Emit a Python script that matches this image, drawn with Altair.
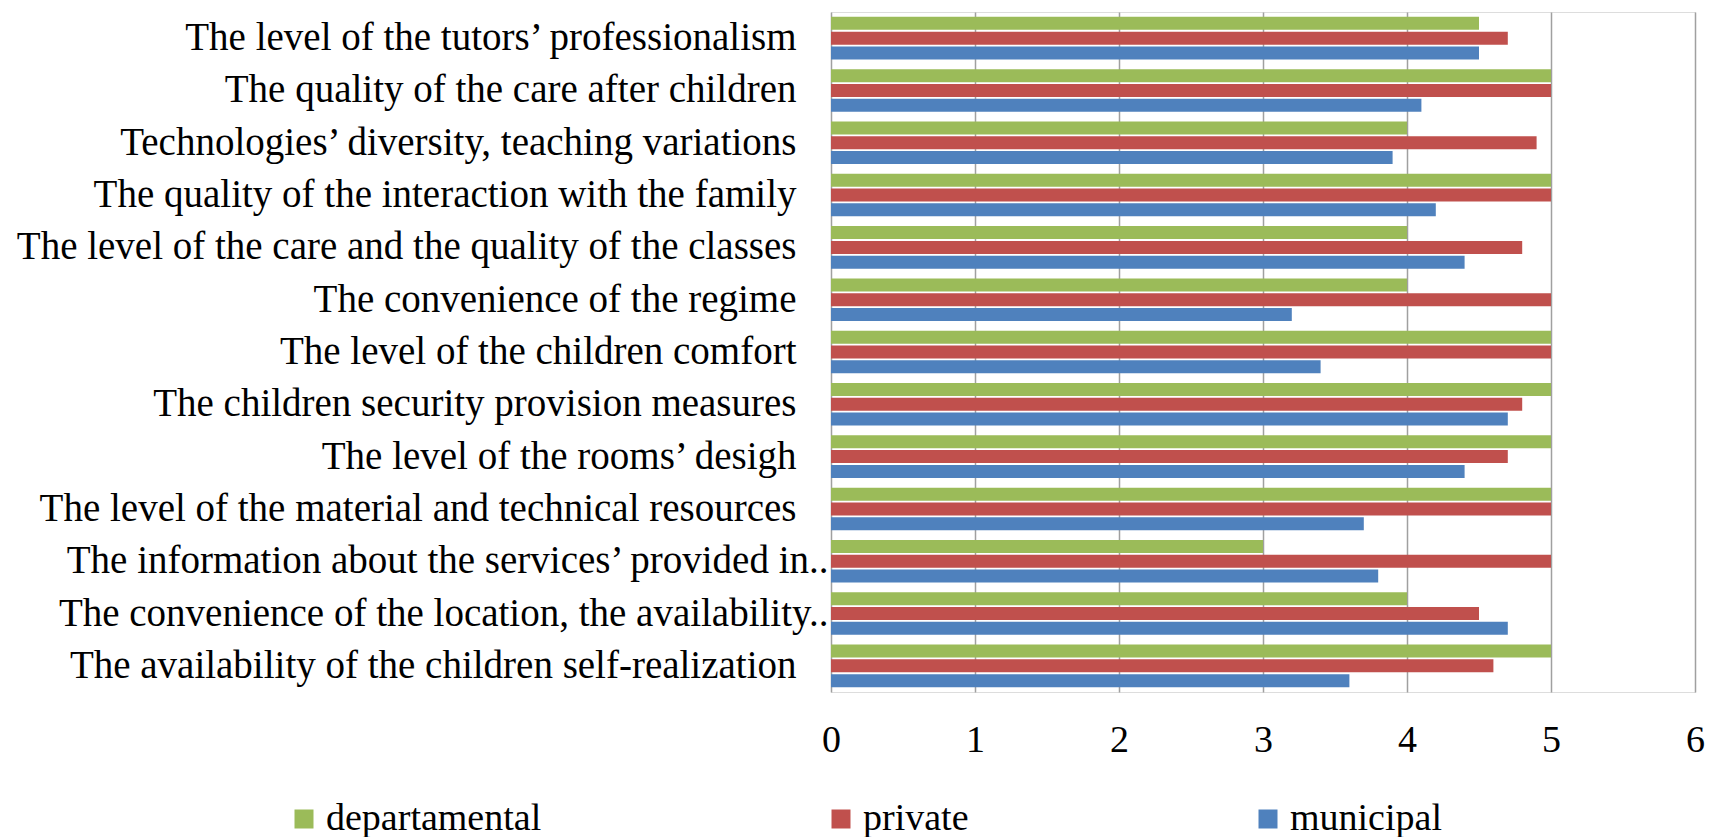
import altair as alt
import pandas as pd

categories = [
    "The level of the tutors’ professionalism",
    "The quality of the care after children",
    "Technologies’ diversity, teaching variations",
    "The quality of the interaction with the family",
    "The level of the care and the quality of the classes ",
    "The convenience of the regime",
    "The level of the children comfort",
    "The children security provision measures ",
    "The level of the rooms’ desigh",
    "The level of the material  and technical resources ",
    "The information about the services’  provided in..",
    "The convenience of the location, the availability..",
    "The availability of the children self-realization",
]
series = ["departamental", "private", "municipal"]
departmental = [4.5, 5, 4, 5, 4, 4, 5, 5, 5, 5, 3, 4, 5]
private = [4.7, 5, 4.9, 5, 4.8, 5, 5, 4.8, 4.7, 5, 5, 4.5, 4.6]
municipal = [4.5, 4.1, 3.9, 4.2, 4.4, 3.2, 3.4, 4.7, 4.4, 3.7, 3.8, 4.7, 3.6]
colors = ["#9BBB59", "#C0504D", "#4F81BD"]
x_ticks = [0, 1, 2, 3, 4, 5, 6]

rows = []
for name, vals in zip(series, [departmental, private, municipal]):
    for c, v in zip(categories, vals):
        rows.append({"category": c, "series": name, "value": v})
df = pd.DataFrame(rows)

FONT = "Liberation Serif"

chart = (
    alt.Chart(df)
    .mark_bar(size=13)
    .encode(
        y=alt.Y(
            "category:N",
            sort=categories,
            scale=alt.Scale(paddingInner=0.18, paddingOuter=0.09),
            axis=alt.Axis(
                title=None,
                ticks=False,
                domain=False,
                labelLimit=1000,
                labelFont=FONT,
                labelFontSize=39,
                labelColor="#000000",
                labelPadding={
                    "condition": {"test": "indexof(datum.label, '..') >= 0", "value": 3},
                    "value": 35,
                },
            ),
        ),
        yOffset=alt.YOffset("series:N", sort=series, scale=alt.Scale(paddingInner=0.1)),
        x=alt.X(
            "value:Q",
            scale=alt.Scale(domain=[0, 6], nice=False),
            axis=alt.Axis(
                title=None,
                values=x_ticks,
                ticks=False,
                domain=False,
                grid=True,
                gridColor="#a0a0a0",
                gridWidth=1.5,
                labelFont=FONT,
                labelFontSize=38,
                labelColor="#000000",
                labelPadding=29,
                labelFlush=False,
                format="d",
            ),
        ),
        color=alt.Color(
            "series:N",
            sort=series,
            scale=alt.Scale(domain=series, range=colors),
            legend=alt.Legend(
                title=None,
                orient="none",
                direction="horizontal",
                columns=3,
                legendX=-546,
                legendY=788,
                symbolType="square",
                symbolSize=361,
                symbolStrokeWidth=0,
                symbolOpacity=1,
                labelFont=FONT,
                labelFontSize=38,
                labelColor="#000000",
                labelOffset=3,
                labelLimit=1000,
                columnPadding=280,
                padding=0,
            ),
        ),
    )
    .properties(
        width=864,
        height=680,
        autosize=alt.AutoSizeParams(type="none"),
        padding={"left": 823, "top": 4, "right": 10, "bottom": 145},
    )
    .configure_view(stroke=None)
    .configure(background="#ffffff")
)

chart.save("out.html", embed_options={"renderer": "svg", "actions": False})
